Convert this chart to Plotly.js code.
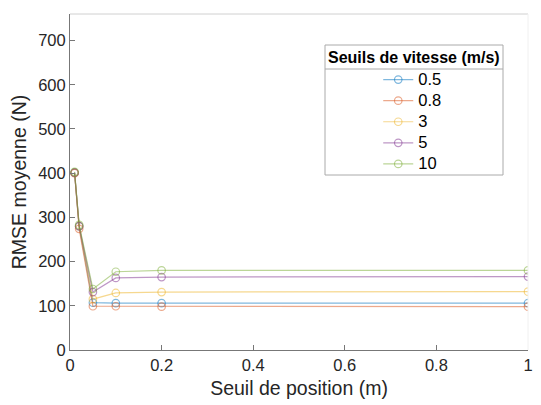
<!DOCTYPE html>
<html><head><meta charset="utf-8">
<script src="https://cdn.plot.ly/plotly-3.0.1.min.js"></script>
<style>html,body{margin:0;padding:0;background:#fff}#chart{width:541px;height:405px}</style>
</head><body><div id="chart"></div>
<script>
const positionThresholds = [0.01, 0.02, 0.05, 0.1, 0.2, 1];
const speedLabels = ["0.5", "0.8", "3", "5", "10"];
const rmse_05 = [401, 280, 107, 106, 106, 106];
const rmse_08 = [400, 274, 99, 99, 98, 98];
const rmse_3 = [401, 280, 115, 129, 131, 132];
const rmse_5 = [401, 280, 131, 163, 165, 166];
const rmse_10 = [403, 283, 138, 177, 180, 180];
const xTicks = [0, 0.2, 0.4, 0.6, 0.8, 1];
const yTicks = [0, 100, 200, 300, 400, 500, 600, 700];

const series = [rmse_05, rmse_08, rmse_3, rmse_5, rmse_10];
const colors = ["rgba(0,114,189,0.5)", "rgba(217,83,25,0.5)", "rgba(237,177,32,0.5)", "rgba(126,47,142,0.5)", "rgba(119,172,48,0.5)"];

const traces = series.map((ys, i) => ({
  x: positionThresholds, y: ys, name: '<span style="font-size:16.5px">' + speedLabels[i] + '</span>',
  type: "scatter", mode: "lines+markers",
  line: {color: colors[i], width: 1.2},
  marker: {symbol: "circle-open", size: 7.5, color: colors[i], line: {width: 1.2}}
}));

const F = "Liberation Sans, Arial, sans-serif";
const layout = {
  width: 541, height: 405,
  margin: {l: 70, r: 13, t: 14, b: 55},
  paper_bgcolor: "#fff", plot_bgcolor: "#fff",
  font: {family: F, color: "#262626"},
  showlegend: true,
  legend: {x: 0.673, y: 0.851, xanchor: "left", yanchor: "top", bgcolor: "rgba(0,0,0,0)",
    borderwidth: 0, font: {size: 13.9, family: F, color: "#000"}, itemwidth: 30, tracegroupgap: 0},
  xaxis: {range: [0, 1], tickvals: xTicks, ticktext: xTicks.map(String), ticks: "inside", ticklen: 5,
    tickcolor: "#777", showline: true, linecolor: "#777", linewidth: 1, showgrid: false, zeroline: false,
    tickfont: {size: 16.5, family: F, color: "#262626"},
    title: {text: "Seuil de position (m)", font: {size: 19.5, family: F, color: "#262626"}, standoff: 8}},
  yaxis: {range: [0, 760], tickvals: yTicks, ticktext: yTicks.map(String), ticks: "inside", ticklen: 5,
    tickcolor: "#777", showline: true, linecolor: "#777", linewidth: 1, showgrid: false, zeroline: false,
    tickfont: {size: 16.5, family: F, color: "#262626"},
    title: {text: "RMSE moyenne (N)", font: {size: 19.5, family: F, color: "#262626"}, standoff: 6}},
  shapes: [
    {type: "line", xref: "paper", yref: "paper", x0: 0, x1: 1, y0: 1, y1: 1, line: {color: "#d0d0d0", width: 1}},
    {type: "line", xref: "paper", yref: "paper", x0: 1, x1: 1, y0: 0, y1: 1, line: {color: "#f0f0f0", width: 1}},
    {type: "rect", xref: "paper", yref: "paper", x0: (325-70)/458, x1: (503-70)/458, y0: (350-175)/336, y1: (350-45)/336,
      line: {color: "#aaa", width: 1}, fillcolor: "rgba(255,255,255,0)"},
    {type: "line", xref: "paper", yref: "paper", x0: (325-70)/458, x1: (503-70)/458, y0: (350-69)/336, y1: (350-69)/336,
      line: {color: "#aaa", width: 1}}
  ],
  annotations: [
    {text: "<b>Seuils de vitesse (m/s)</b>", xref: "paper", yref: "paper", x: (414-70)/458, y: (350-57)/336,
      xanchor: "center", yanchor: "middle", showarrow: false, font: {size: 16, family: F, color: "#000"}}
  ]
};
Plotly.newPlot("chart", traces, layout, {displayModeBar: false, staticPlot: true});
</script></body></html>
